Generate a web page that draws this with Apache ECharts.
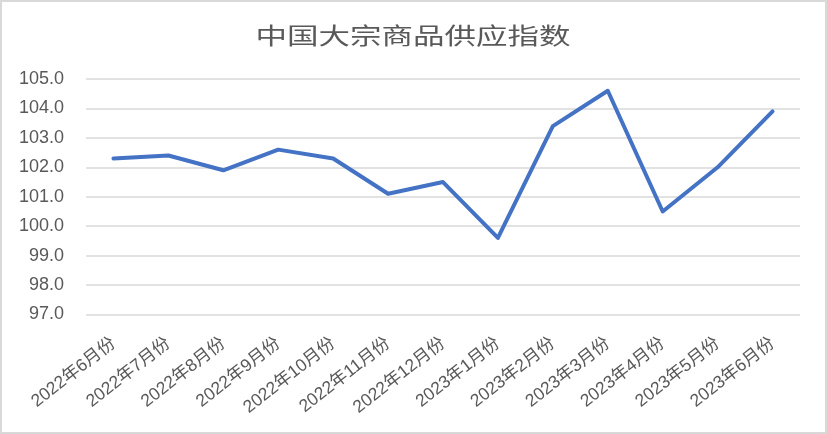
<!DOCTYPE html>
<html>
<head>
<meta charset="utf-8">
<script src="https://cdn.jsdelivr.net/npm/echarts@6/dist/echarts.min.js"></script>
<style>
html,body{margin:0;padding:0;background:#fff;}
#main{width:827px;height:434px;}
</style>
</head>
<body>
<div id="main"></div>
<script>
const title = '中国大宗商品供应指数';
const categories = ['2022年6月份','2022年7月份','2022年8月份','2022年9月份','2022年10月份','2022年11月份','2022年12月份','2023年1月份','2023年2月份','2023年3月份','2023年4月份','2023年5月份','2023年6月份'];
const values = [102.3, 102.4, 101.9, 102.6, 102.3, 101.1, 101.5, 99.6, 103.4, 104.6, 100.5, 102.0, 103.9];
const yMin = 97, yMax = 105, yStep = 1;

const font = '"Liberation Sans", "Noto Sans CJK SC", sans-serif';
const chart = echarts.init(document.getElementById('main'));
chart.setOption({
  animation: false,
  backgroundColor: '#fff',
  graphic: [{
    type: 'rect', shape: {x: 1, y: 1, width: 825, height: 432},
    style: {fill: 'none', stroke: '#d9d9d9', lineWidth: 2}, silent: true
  }, {
    type: 'text', x: 413, y: 35, scaleX: 1.37, scaleY: 1,
    style: {text: title, fill: '#595959', fontSize: 23, fontWeight: 'normal',
      fontFamily: '"Noto Sans CJK SC", sans-serif', align: 'center', verticalAlign: 'middle'},
    silent: true
  }],
  grid: {left: 86, right: 27, top: 79, bottom: 119.5, containLabel: false},
  xAxis: {
    type: 'category', data: categories, boundaryGap: true,
    axisLine: {show: false}, axisTick: {show: false},
    axisLabel: {rotate: 38, color: '#595959', fontSize: 17.5, fontFamily: font, margin: 27, interval: 0}
  },
  yAxis: {
    type: 'value', min: yMin, max: yMax, interval: yStep,
    axisLine: {show: false}, axisTick: {show: false},
    axisLabel: {color: '#595959', fontSize: 18, fontFamily: font, margin: 22, formatter: v => v.toFixed(1)},
    splitLine: {lineStyle: {color: '#d9d9d9', width: 1.5}}
  },
  series: [{
    type: 'line', data: values, showSymbol: false, symbol: 'none',
    lineStyle: {color: '#4472C4', width: 4, join: 'round', cap: 'round'}
  }]
});
</script>
</body>
</html>
